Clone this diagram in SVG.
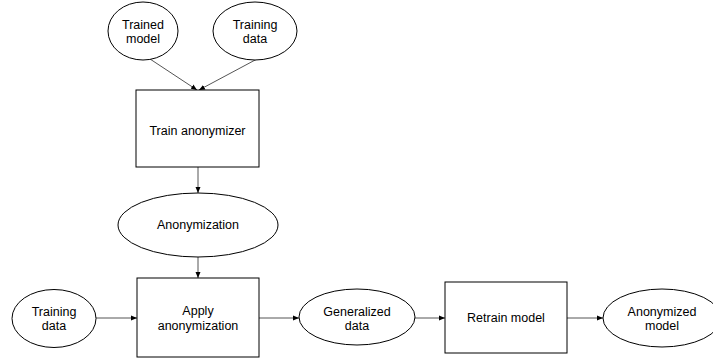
<svg xmlns="http://www.w3.org/2000/svg" width="713" height="360" viewBox="0 0 713 360">
<defs>
<style>
.n{fill:#fff;stroke:#000;stroke-width:1}
.t{font-family:"Liberation Sans",Arial,sans-serif;font-size:12.5px;fill:#000;text-anchor:middle}
.e{stroke:#555;stroke-width:1;fill:none;marker-end:url(#a)}
</style>
<marker id="a" markerUnits="userSpaceOnUse" markerWidth="6" markerHeight="6" refX="6" refY="3" orient="auto">
<path d="M0,0.5 L6,3 L0,5.5 z" fill="#000"/>
</marker>
</defs>
<rect width="713" height="360" fill="#fff"/>
<g id="edges">
<line class="e" x1="150" y1="59" x2="197" y2="90"/>
<line class="e" x1="257" y1="59" x2="199" y2="90"/>
<line class="e" x1="198" y1="167" x2="198" y2="193"/>
<line class="e" x1="198" y1="257" x2="198" y2="278"/>
<line class="e" x1="96" y1="318" x2="137" y2="318"/>
<line class="e" x1="259" y1="318" x2="299" y2="318"/>
<line class="e" x1="415" y1="318" x2="445" y2="318"/>
<line class="e" x1="567" y1="318" x2="603" y2="318"/>
</g>
<g id="trained-model">
<ellipse class="n" cx="143" cy="31" rx="35" ry="29"/>
<text class="t" x="143" y="29">Trained</text>
<text class="t" x="143" y="43">model</text>
</g>
<g id="training-data-top">
<ellipse class="n" cx="255" cy="31" rx="42" ry="29"/>
<text class="t" x="255" y="29">Training</text>
<text class="t" x="255" y="43">data</text>
</g>
<g id="train-anonymizer">
<rect class="n" x="136" y="90" width="123" height="77"/>
<text class="t" x="197.5" y="135">Train anonymizer</text>
</g>
<g id="anonymization">
<ellipse class="n" cx="198" cy="225" rx="80" ry="32"/>
<text class="t" x="198" y="229">Anonymization</text>
</g>
<g id="training-data-left">
<ellipse class="n" cx="54" cy="318.5" rx="42" ry="29"/>
<text class="t" x="54" y="316">Training</text>
<text class="t" x="54" y="330">data</text>
</g>
<g id="apply-anonymization">
<rect class="n" x="137" y="278" width="122" height="79"/>
<text class="t" x="198" y="315">Apply</text>
<text class="t" x="198" y="330">anonymization</text>
</g>
<g id="generalized-data">
<ellipse class="n" cx="357" cy="317" rx="58" ry="28"/>
<text class="t" x="357" y="316">Generalized</text>
<text class="t" x="357" y="330">data</text>
</g>
<g id="retrain-model">
<rect class="n" x="445" y="282" width="122" height="71"/>
<text class="t" x="506" y="322">Retrain model</text>
</g>
<g id="anonymized-model">
<ellipse class="n" cx="662" cy="318" rx="59" ry="29"/>
<text class="t" x="662" y="316">Anonymized</text>
<text class="t" x="662" y="330">model</text>
</g>
</svg>
